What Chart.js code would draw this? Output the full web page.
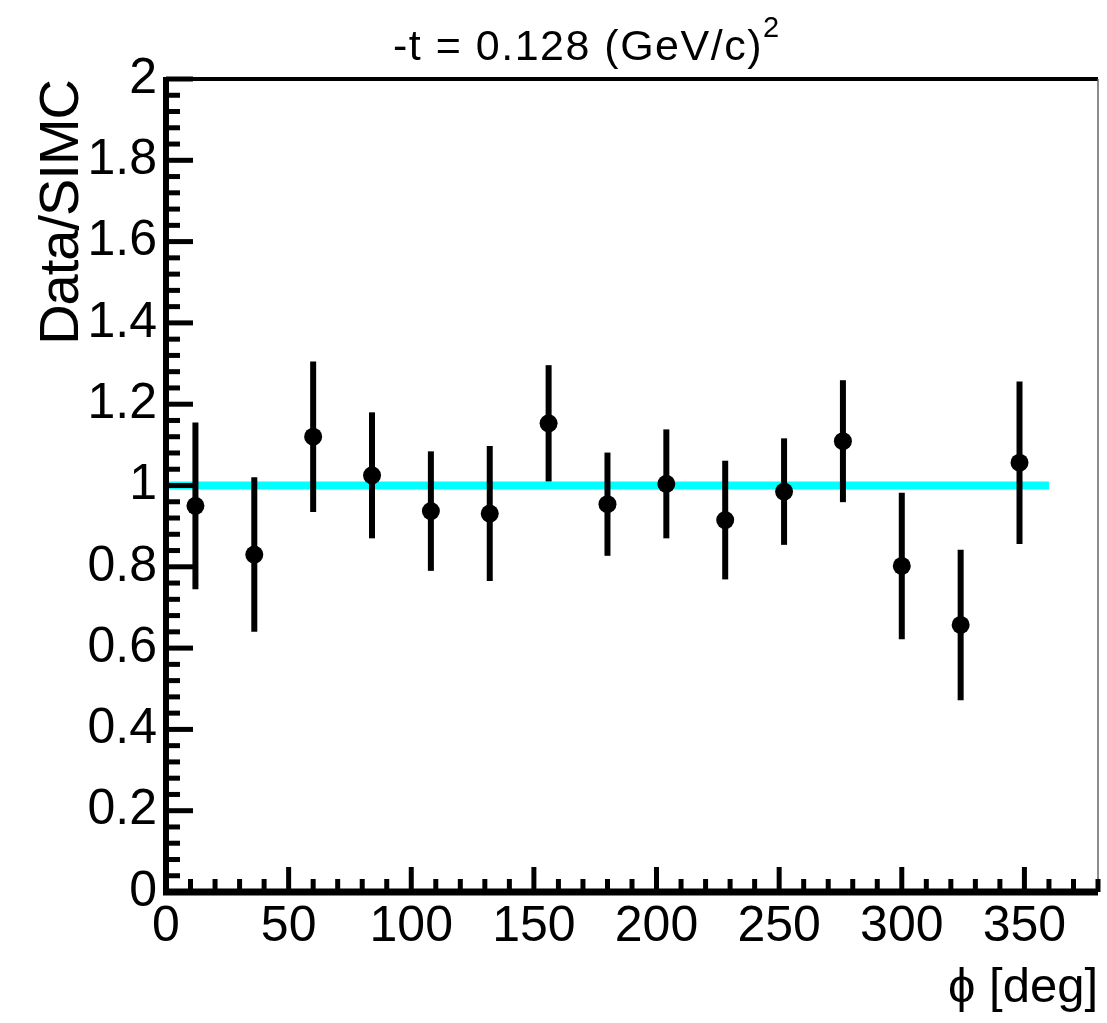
<!DOCTYPE html>
<html>
<head>
<meta charset="utf-8">
<script src="https://cdn.jsdelivr.net/npm/chart.js@4.4.1/dist/chart.umd.min.js"></script>
<style>
  html, body { margin: 0; padding: 0; background: #fff; }
  canvas { display: block; }
</style>
</head>
<body>
<canvas id="ratio-chart" width="1107" height="1023"></canvas>
<script>
// valores
const phi = [12, 36, 60, 84, 108, 132, 156, 180, 204, 228, 252, 276, 300, 324, 348];
const ratio = [0.95, 0.83, 1.12, 1.025, 0.937, 0.931, 1.153, 0.954, 1.004, 0.915, 0.985, 1.109, 0.802, 0.657, 1.056];
const ratioErr = [0.205, 0.19, 0.185, 0.155, 0.147, 0.166, 0.143, 0.127, 0.134, 0.146, 0.131, 0.15, 0.18, 0.185, 0.2];
const refX = [0, 360];
const refY = [1, 1];
const xTicks = [0, 50, 100, 150, 200, 250, 300, 350];
const yTicks = [0, 0.2, 0.4, 0.6, 0.8, 1, 1.2, 1.4, 1.6, 1.8, 2];

const FONT = '"Liberation Sans", Arial, Helvetica, sans-serif';

// barras de erro, eixos com ticks para dentro e textos
const rootStyle = {
  id: 'rootStyle',
  afterDatasetDraw(chart, args) {
    if (args.index !== 1) return;
    const ctx = chart.ctx;
    const x = chart.scales.x, y = chart.scales.y;
    ctx.save();
    ctx.strokeStyle = '#000';
    ctx.lineWidth = 6;
    ctx.lineCap = 'butt';
    phi.forEach((p, i) => {
      const px = x.getPixelForValue(p);
      ctx.beginPath();
      ctx.moveTo(px, y.getPixelForValue(ratio[i] + ratioErr[i]));
      ctx.lineTo(px, y.getPixelForValue(ratio[i] - ratioErr[i]));
      ctx.stroke();
    });
    ctx.restore();
  },
  afterDraw(chart) {
    const ctx = chart.ctx;
    const a = chart.chartArea;
    const x = chart.scales.x, y = chart.scales.y;
    ctx.save();
    ctx.strokeStyle = '#000';

    // moldura
    ctx.lineWidth = 4;
    ctx.beginPath();
    ctx.moveTo(a.left, a.top); ctx.lineTo(a.right, a.top);
    ctx.stroke();
    ctx.lineWidth = 1.5;
    ctx.strokeStyle = '#666';
    ctx.beginPath();
    ctx.moveTo(a.right, a.top); ctx.lineTo(a.right, a.bottom);
    ctx.stroke();
    ctx.strokeStyle = '#000';
    ctx.lineWidth = 6;
    ctx.beginPath();
    ctx.moveTo(a.left, a.top - 2); ctx.lineTo(a.left, a.bottom + 3);
    ctx.stroke();
    ctx.lineWidth = 7;
    ctx.beginPath();
    ctx.moveTo(a.left - 3, a.bottom); ctx.lineTo(a.right, a.bottom);
    ctx.stroke();

    // ticks do eixo x
    ctx.lineWidth = 5;
    for (let v = 0; v <= x.max; v += 10) {
      const px = x.getPixelForValue(v);
      const len = v % 50 === 0 ? 25 : 13;
      ctx.beginPath();
      ctx.moveTo(px, a.bottom); ctx.lineTo(px, a.bottom - len);
      ctx.stroke();
    }
    // ticks do eixo y
    for (let k = 0; k <= 50; k++) {
      const py = y.getPixelForValue(k * 0.04);
      const len = k % 5 === 0 ? 27 : 14;
      ctx.beginPath();
      ctx.moveTo(a.left, py); ctx.lineTo(a.left + len, py);
      ctx.stroke();
    }

    // títulos
    ctx.fillStyle = '#000';
    ctx.textBaseline = 'alphabetic';
    ctx.textAlign = 'left';
    ctx.font = '43px ' + FONT;
    ctx.letterSpacing = '1.5px';
    const title = '-t = 0.128 (GeV/c)';
    ctx.fillText(title, 393, 60);
    const w = ctx.measureText(title).width;
    ctx.font = '29px ' + FONT;
    ctx.fillText('2', 393 + w, 37);

    ctx.letterSpacing = '0px';
    ctx.font = '49px ' + FONT;
    ctx.textAlign = 'right';
    ctx.fillText('\u03D5 [deg]', a.right, 1002);

    ctx.translate(78, 80);
    ctx.rotate(-Math.PI / 2);
    ctx.font = '56px ' + FONT;
    ctx.letterSpacing = '-1px';
    ctx.textAlign = 'right';
    ctx.fillText('Data/SIMC', 0, 0);
    ctx.restore();
  }
};

new Chart(document.getElementById('ratio-chart'), {
  type: 'scatter',
  data: {
    datasets: [
      {
        type: 'line',
        data: refX.map((v, i) => ({ x: v, y: refY[i] })),
        borderColor: '#00FFFF',
        borderWidth: 8,
        pointRadius: 0,
        fill: false,
        order: 2
      },
      {
        data: phi.map((v, i) => ({ x: v, y: ratio[i] })),
        backgroundColor: '#000',
        borderColor: '#000',
        pointRadius: 9,
        pointBorderWidth: 0,
        order: 1
      }
    ]
  },
  options: {
    responsive: false,
    animation: false,
    events: [],
    layout: { padding: { left: 0, right: 2, top: 79, bottom: 0 } },
    plugins: { legend: { display: false }, tooltip: { enabled: false } },
    scales: {
      x: {
        type: 'linear',
        min: 0,
        max: 380,
        grid: { display: false, drawTicks: false },
        border: { display: false },
        afterBuildTicks: s => { s.ticks = xTicks.map(v => ({ value: v })); },
        afterFit: s => { s.height = 131; },
        ticks: {
          autoSkip: false,
          maxRotation: 0,
          padding: 5,
          color: '#000',
          font: { family: FONT, size: 50 },
          callback: v => String(v)
        }
      },
      y: {
        min: 0,
        max: 2,
        grid: { display: false, drawTicks: false },
        border: { display: false },
        afterBuildTicks: s => { s.ticks = yTicks.map(v => ({ value: v })); },
        afterFit: s => { s.width = 166; },
        ticks: {
          autoSkip: false,
          padding: 9,
          color: '#000',
          font: { family: FONT, size: 50 },
          callback: v => String(Math.round(v * 10) / 10)
        }
      }
    }
  },
  plugins: [rootStyle]
});
</script>
</body>
</html>
